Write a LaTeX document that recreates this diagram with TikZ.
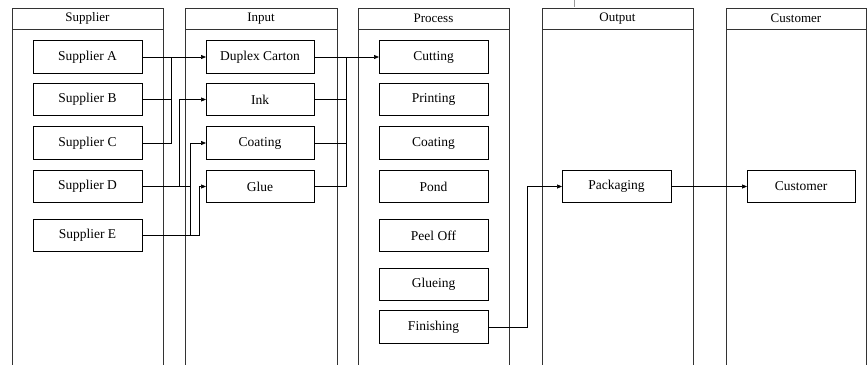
\documentclass[tikz,border=0pt]{standalone}
\usepackage{fontspec}
\setmainfont{Liberation Serif}
\usetikzlibrary{arrows.meta}
\begin{document}
\begin{tikzpicture}[x=1pt,y=-1pt,
  lane/.style={draw=black!80, line width=0.8pt},
  hdr/.style={draw=black!80, line width=0.8pt, inner sep=0pt, outer sep=0pt,
    minimum height=21pt, font=\fontsize{13}{15}\selectfont},
  box/.style={draw=black, line width=0.8pt, inner sep=0pt, outer sep=0pt,
    minimum width=109pt, minimum height=32.5pt, font=\fontsize{13.5}{16}\selectfont},
  link/.style={draw=black, line width=0.7pt},
  arr/.style={link, -{Triangle[length=5pt,width=4pt]}}]
\useasboundingbox (0,0) rectangle (867,364);
\clip (0,0) rectangle (867,364);

% swimlanes: header strip and open-ended body
\foreach \xa/\xb/\name/\lbl in {12/163/lS/Supplier, 185/337/lI/Input, 358/509/lP/Process,
                                 542/693/lO/Output, 726/866/lC/Customer}{
  \draw[lane] (\xa,8) rectangle (\xb,380);
  \node[hdr, minimum width={\xb-\xa}] (\name) at ({(\xa+\xb)/2},18.5) {\lbl};
}
\draw[black!40, line width=0.5pt] (574,0) -- (574,7);

% supplier column
\node[box] (sA) at (87.5,57)    {Supplier A};
\node[box] (sB) at (87.5,99.5)  {Supplier B};
\node[box] (sC) at (87.5,143)   {Supplier C};
\node[box] (sD) at (87.5,186.5) {Supplier D};
\node[box] (sE) at (87.5,235.5) {Supplier E};

% input column
\node[box, minimum width=108pt] (dup)  at (260,57)    {Duplex Carton};
\node[box, minimum width=108pt] (ink)  at (260,99.5)  {Ink};
\node[box, minimum width=108pt] (coatI) at (260,143)  {Coating};
\node[box, minimum width=108pt] (glue) at (260,186.5) {Glue};

% process column
\node[box] (cut)  at (433.5,57)    {Cutting};
\node[box] (prt)  at (433.5,99.5)  {Printing};
\node[box] (coatP) at (433.5,143)  {Coating};
\node[box] (pond) at (433.5,186.5) {Pond};
\node[box] (peel) at (433.5,235.5) {Peel Off};
\node[box] (glu)  at (433.5,284.5) {Glueing};
\node[box] (fin)  at (433.5,327)   {Finishing};

% output and customer
\node[box] (pack) at (616.5,186.5) {Packaging};
\node[box, minimum width=108pt] (cust) at (801,186.5) {Customer};

% vertical junction lines
\coordinate (busS)  at (171,0);
\coordinate (jInk)  at (179,0);
\coordinate (jCoat) at (190,0);
\coordinate (jGlue) at (199,0);
\coordinate (busI)  at (346,0);
\coordinate (jOut)  at (527,0);

% suppliers to inputs
\draw[arr] (sA.east) -- (dup.west);
\draw[link] (sB.east) -- (sB.east -| busS);
\draw[link] (sC.east) -| (sA.east -| busS);
\draw[arr] (sD.east) -- (sD.east -| jInk) |- (ink.west);
\draw[arr] (sD.east) -- (sD.east -| jCoat) |- (coatI.west);
\draw[link] (sE.east) -| (sD.east -| jCoat);
\draw[arr] (sE.east) -- (sE.east -| jGlue) |- (glue.west);

% inputs to process
\draw[arr] (dup.east) -- (cut.west);
\draw[link] (ink.east) -- (ink.east -| busI);
\draw[link] (coatI.east) -- (coatI.east -| busI);
\draw[link] (glue.east) -| (dup.east -| busI);

% process to output to customer
\draw[arr] (fin.east) -- (fin.east -| jOut) |- (pack.west);
\draw[arr] (pack.east) -- (cust.west);
\end{tikzpicture}
\end{document}
